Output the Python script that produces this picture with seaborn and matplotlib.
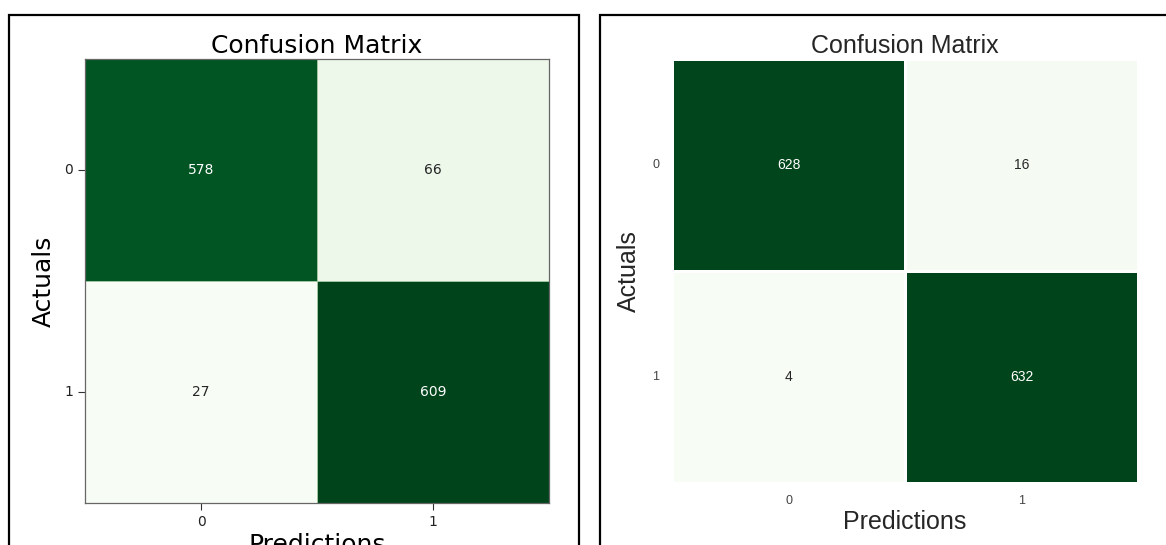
import matplotlib
matplotlib.use("Agg")
import matplotlib.pyplot as plt
from matplotlib.patches import Rectangle
import numpy as np
import seaborn as sns

# ---- data ----
labels = ["0", "1"]
left_matrix = [[578, 66],
               [27, 609]]
right_matrix = [[628, 16],
                [4, 632]]
title_text = "Confusion Matrix"
xlabel_text = "Predictions"
ylabel_text = "Actuals"

W, H = 1166, 545
fig = plt.figure(figsize=(W / 100, H / 100), dpi=100)
fig.patch.set_facecolor("white")

def fx(px):
    return px / W

def fy(py):
    return 1 - py / H

# ---------- left panel (matplotlib default look) ----------
axL = fig.add_axes([fx(85), fy(503), fx(549) - fx(85), fy(59) - fy(503)])
sns.heatmap(np.array(left_matrix), ax=axL, cmap="Greens", annot=True, fmt="d",
            cbar=False, linewidths=0.6, linecolor="#9fc49f",
            xticklabels=labels, yticklabels=labels,
            annot_kws={"fontsize": 10, "fontfamily": "DejaVu Sans"})
for s in axL.spines.values():
    s.set_visible(True)
    s.set_color("#666666")
    s.set_linewidth(0.9)
axL.tick_params(axis="both", labelsize=10, length=5, width=0.8,
                colors="#333333", labelcolor="#222222")
axL.tick_params(axis="y", labelrotation=0)
axL.set_title(title_text, fontsize=18, fontfamily="DejaVu Sans", pad=4)
axL.set_xlabel(xlabel_text, fontsize=18, fontfamily="DejaVu Sans", labelpad=3)
axL.set_ylabel(ylabel_text, fontsize=18, fontfamily="DejaVu Sans", labelpad=6)

# ---------- right panel (seaborn white style, Arial-like font) ----------
with sns.axes_style("white"):
    axR = fig.add_axes([fx(672), fy(483), fx(1138) - fx(672), fy(59) - fy(483)])
sns.heatmap(np.array(right_matrix), ax=axR, cmap="Greens", annot=True, fmt="d",
            cbar=False, linewidths=1, linecolor="white",
            xticklabels=labels, yticklabels=labels,
            annot_kws={"fontsize": 10, "fontfamily": "Liberation Sans"})
for s in axR.spines.values():
    s.set_visible(False)
axR.tick_params(axis="both", labelsize=9, length=0, pad=9, labelcolor="#444444")
axR.tick_params(axis="y", labelrotation=0)
for t in axR.get_xticklabels() + axR.get_yticklabels():
    t.set_fontfamily("Liberation Sans")
axR.set_title(title_text, fontsize=18, fontfamily="Liberation Sans",
              color="#262626", pad=4)
axR.set_xlabel(xlabel_text, fontsize=18, fontfamily="Liberation Sans",
               color="#262626", labelpad=2)
axR.set_ylabel(ylabel_text, fontsize=18, fontfamily="Liberation Sans",
               color="#262626", labelpad=8)

# ---------- panel frames ----------
fig.add_artist(Rectangle((fx(9), fy(560)), fx(579) - fx(9), fy(15) - fy(560),
                         transform=fig.transFigure, fill=False,
                         edgecolor="black", linewidth=1.6))
fig.add_artist(Rectangle((fx(600), fy(560)), fx(1200) - fx(600), fy(15) - fy(560),
                         transform=fig.transFigure, fill=False,
                         edgecolor="black", linewidth=1.6))

fig.savefig("out.png", dpi=100, facecolor="white")
